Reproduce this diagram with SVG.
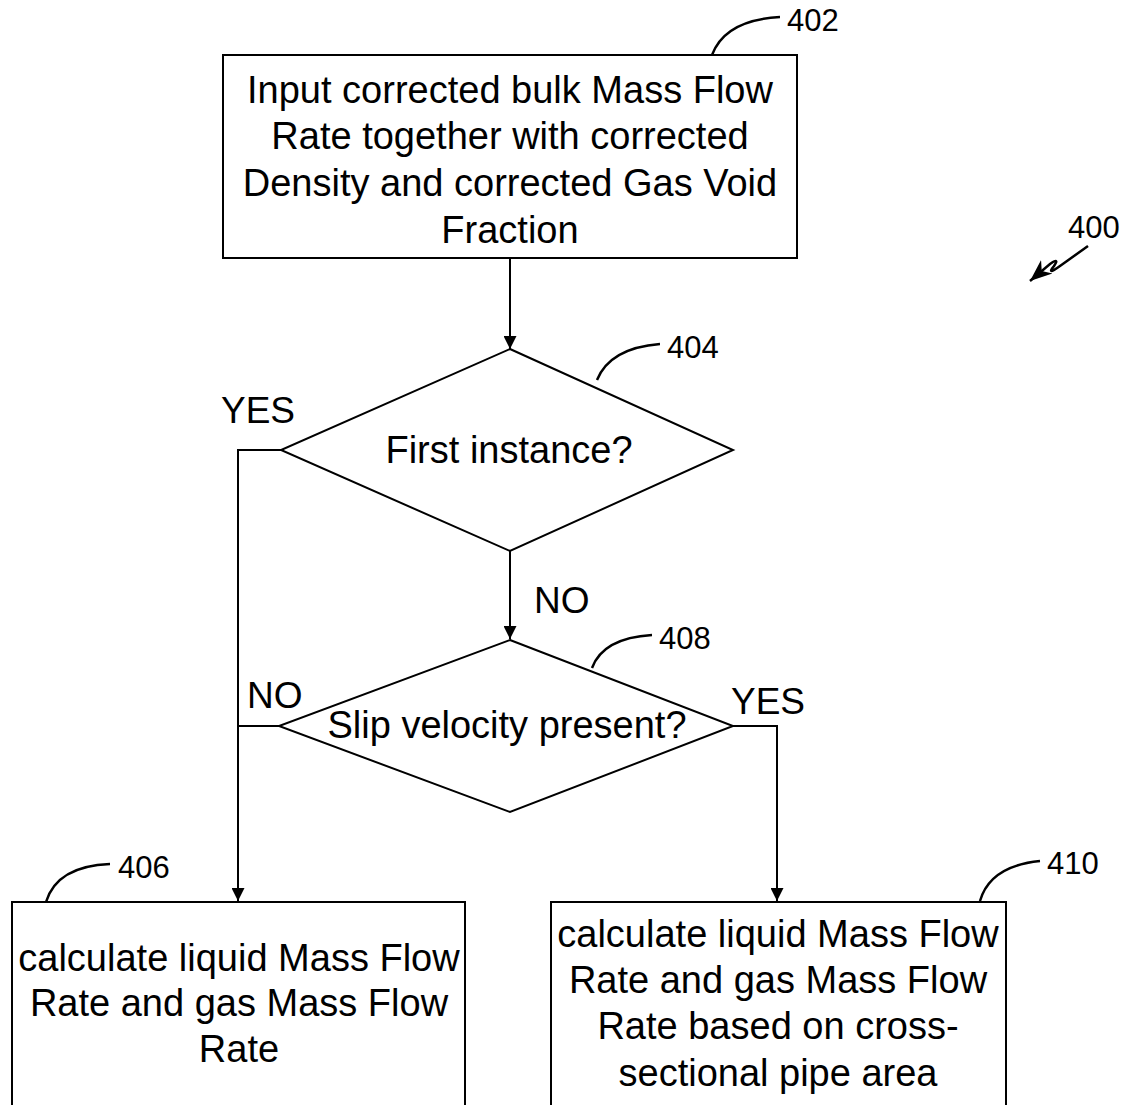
<svg xmlns="http://www.w3.org/2000/svg" width="1124" height="1105" viewBox="0 0 1124 1105">
<style>
.n{fill:#fff;stroke:#000;stroke-width:2}
.t{font-family:"Liberation Sans",Arial,sans-serif;font-size:38px;fill:#000;text-anchor:middle}
.l{font-family:"Liberation Sans",Arial,sans-serif;font-size:37px;fill:#000}
.r{font-family:"Liberation Sans",Arial,sans-serif;font-size:31px;fill:#000}
.c{fill:none;stroke:#000;stroke-width:2}
.ld{fill:none;stroke:#000;stroke-width:2.5}
</style>
<defs>
<marker id="a" viewBox="0 0 10 10" refX="10" refY="5" markerWidth="13" markerHeight="13" markerUnits="userSpaceOnUse" orient="auto">
<path d="M0,0 L10,5 L0,10 Z" fill="#000"/>
</marker>
<marker id="b" viewBox="0 0 10 10" refX="10" refY="5" markerWidth="22" markerHeight="22" markerUnits="userSpaceOnUse" orient="auto">
<path d="M0,1 L10,5 L0,9 L3,5 Z" fill="#000"/>
</marker>
</defs>
<g id="connectors">
<path class="c" d="M510,258 V349" marker-end="url(#a)"/>
<path class="c" d="M510,551 V639" marker-end="url(#a)"/>
<path class="c" d="M281,450 H238 V901" marker-end="url(#a)"/>
<path class="c" d="M279,726 H238"/>
<path class="c" d="M733,726 H777 V901" marker-end="url(#a)"/>
<text class="l" x="221" y="423">YES</text>
<text class="l" x="534" y="613">NO</text>
<text class="l" x="247" y="708">NO</text>
<text class="l" x="731" y="714">YES</text>
</g>
<g id="n402">
<rect class="n" x="223" y="55" width="574" height="203"/>
<text class="t" x="510" y="103">Input corrected bulk Mass Flow</text>
<text class="t" x="510" y="149">Rate together with corrected</text>
<text class="t" x="510" y="196">Density and corrected Gas Void</text>
<text class="t" x="510" y="243">Fraction</text>
<path class="ld" d="M712,55 Q725,20 780,17"/>
<text class="r" x="787" y="31">402</text>
</g>
<g id="n404">
<polygon class="n" points="510,349 733,450 510,551 281,450"/>
<text class="t" x="509" y="463">First instance?</text>
<path class="ld" d="M597,380 Q610,348 660,344"/>
<text class="r" x="667" y="358">404</text>
</g>
<g id="n408">
<polygon class="n" points="510,640 733,726 510,812 279,726"/>
<text class="t" x="507" y="738">Slip velocity present?</text>
<path class="ld" d="M592,668 Q603,638 652,635"/>
<text class="r" x="659" y="649">408</text>
</g>
<g id="n406">
<rect class="n" x="12" y="902" width="453" height="220"/>
<text class="t" x="239" y="971">calculate liquid Mass Flow</text>
<text class="t" x="239" y="1016">Rate and gas Mass Flow</text>
<text class="t" x="239" y="1062">Rate</text>
<path class="ld" d="M46,902 Q57,866 110,864"/>
<text class="r" x="118" y="878">406</text>
</g>
<g id="n410">
<rect class="n" x="551" y="902" width="455" height="220"/>
<text class="t" x="778" y="947">calculate liquid Mass Flow</text>
<text class="t" x="778" y="993">Rate and gas Mass Flow</text>
<text class="t" x="778" y="1039">Rate based on cross-</text>
<text class="t" x="778" y="1086">sectional pipe area</text>
<path class="ld" d="M980,901 Q990,866 1040,861"/>
<text class="r" x="1047" y="874">410</text>
</g>
<g id="n400">
<text class="r" x="1068" y="238">400</text>
<path class="ld" d="M1088,246 L1060,266 Q1046,276 1054,266 Q1060,257 1050,264 L1030,281" marker-end="url(#b)"/>
</g>
</svg>
